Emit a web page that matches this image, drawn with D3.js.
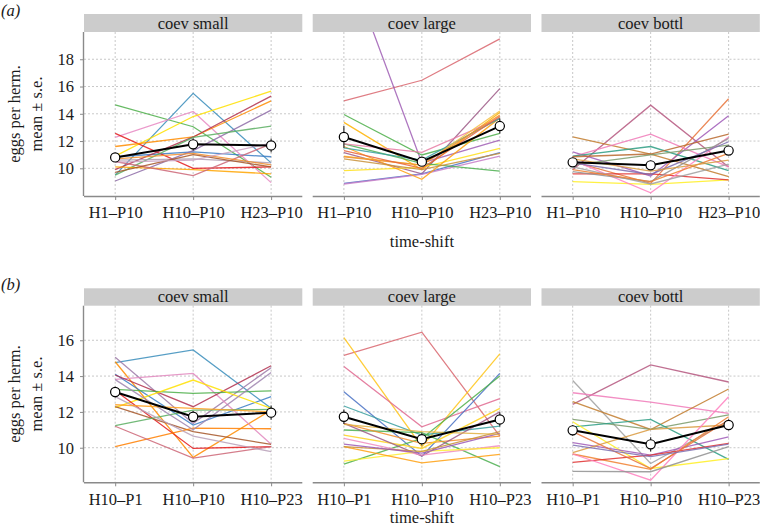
<!DOCTYPE html>
<html><head><meta charset="utf-8">
<script src="https://cdn.jsdelivr.net/npm/d3@7"></script>
<style>body{margin:0;background:#fff}</style>
</head><body><svg id="c" width="760" height="530"></svg>
<script>
// ---------- data ----------
const facets = ["coev small", "coev large", "coev bottl"];
const shiftsA = ["H1–P10", "H10–P10", "H23–P10"];
const shiftsB = ["H10–P1", "H10–P10", "H10–P23"];
const ticksA = [10, 12, 14, 16, 18];
const ticksB = [10, 12, 14, 16];

// replicate lines, values at the three time-shifts
const aSmall = [
  [14.66, 13.05, 9.34], [9.5, 15.5, 10.4], [10.85, 11.2, 10.85], [12.27, 14.17, 8.95],
  [10.9, 13.8, 15.66], [12.56, 10.0, 10.1], [11.6, 12.3, 14.95], [9.9, 12.3, 15.3],
  [9.07, 11.3, 14.27], [9.5, 12.27, 13.1], [10.1, 9.9, 9.6], [10.5, 9.46, 11.8],
  [10.6, 10.7, 10.4], [10.7, 11.1, 10.25], [9.7, 11.0, 10.1], [10.45, 10.6, 11.85]
];
const aLarge = [
  [14.95, 16.46, 19.5], [25.8, 10.4, 12.07], [13.95, 10.98, 12.56], [13.37, 9.9, 14.1],
  [11.15, 9.6, 15.85], [8.9, 9.6, 11.15], [8.85, 9.55, 10.9], [9.83, 10.07, 11.46],
  [11.8, 10.37, 9.8], [11.6, 9.2, 13.7], [11.8, 11.17, 13.66], [11.5, 10.6, 13.66],
  [10.7, 9.9, 11.1], [10.9, 10.24, 14.2], [10.85, 10.24, 13.9], [11.3, 10.0, 13.8]
];
const aBottl = [
  [9.9, 14.63, 10.1], [10.5, 8.9, 15.1], [11.2, 9.44, 13.85], [12.3, 11.05, 9.4],
  [10.85, 12.5, 10.1], [10.9, 11.6, 9.83], [10.85, 11.05, 12.5], [10.24, 10.98, 11.7],
  [9.02, 8.83, 9.15], [9.6, 9.6, 9.15], [10.6, 8.2, 12.3], [9.76, 9.02, 12.2],
  [10.1, 8.85, 10.3], [9.9, 9.02, 11.1], [10.4, 9.55, 11.95], [10.7, 9.8, 10.6]
];
const bSmall = [
  [14.75, 15.46, 12.2], [14.8, 9.46, 12.1], [15.05, 11.36, 14.47], [13.82, 14.15, 10.19],
  [14.1, 11.27, 12.85], [14.06, 12.29, 14.58], [13.26, 13.04, 13.17], [12.24, 13.78, 12.2],
  [13.2, 9.96, 10.06], [12.29, 10.9, 10.19], [11.23, 12.1, 12.14], [10.06, 11.1, 11.06],
  [11.2, 9.42, 10.06], [12.85, 10.65, 9.78], [13.8, 11.0, 14.2], [12.4, 12.2, 12.0]
];
const bLarge = [
  [15.16, 16.45, 10.65], [16.15, 10.06, 15.24], [14.53, 11.17, 12.74], [13.13, 9.53, 14.15],
  [12.33, 10.71, 11.21], [9.09, 10.52, 14.0], [10.99, 10.84, 8.94], [11.36, 10.24, 10.65],
  [10.71, 9.96, 12.2], [11.36, 9.53, 12.0], [10.52, 9.59, 10.11], [9.25, 9.8, 10.0],
  [10.06, 9.16, 9.63], [10.06, 9.8, 10.9], [10.2, 9.7, 10.8], [11.3, 10.9, 10.75]
];
const bBottl = [
  [12.42, 14.62, 13.67], [13.75, 9.12, 11.5], [13.07, 12.55, 11.92], [12.57, 11.02, 13.28],
  [11.58, 11.02, 11.83], [11.17, 11.58, 9.35], [11.45, 8.84, 9.39], [10.28, 9.59, 10.61],
  [9.72, 11.02, 11.27], [9.65, 8.79, 11.73], [9.18, 9.59, 10.24], [9.65, 8.19, 12.85],
  [8.68, 8.66, 10.06], [10.9, 8.84, 11.55], [10.15, 9.5, 10.2]
];

// means and standard errors
const aMeans = [[10.8, 11.76, 11.68], [12.3, 10.49, 13.1], [10.44, 10.22, 11.3]];
const aSE = [[0.3, 0.45, 0.5], [0.8, 0.25, 0.55], [0.2, 0.3, 0.3]];
const bMeans = [[13.11, 11.73, 11.96], [11.73, 10.48, 11.58], [10.97, 10.19, 11.27]];
const bSE = [[0.3, 0.3, 0.4], [0.4, 0.35, 0.4], [0.3, 0.4, 0.3]];

// line colours per panel
const colSmall = ["#4daf4a","#3a8dbb","#3b7dc4","#e78ac3","#ffe000","#e41a1c","#ff8c00","#b2314f",
                  "#8e6ca8","#5aae61","#ffa500","#cc6677","#b09cb0","#f28e2b","#a65628","#c9a0c0"];
const colLarge = ["#d9666f","#a05fb5","#4daf4a","#ffb300","#9e5a87","#4a72c4","#c77dc7","#ffe11a",
                  "#4caf50","#ffa010","#e87ea5","#3ba0a0","#c8903a","#f6c141","#f28e2b","#e8643c"];
const colBottl = ["#b5577f","#e8743b","#a05cb8","#c27c2e","#f07ab8","#2e9e84","#b8692e","#7a9a6a",
                  "#ffee22","#e03030","#ff80c0","#909090","#a0a0a0","#f08030","#7d6fb0","#d99a40"];
const colSmallB = ["#3a8dbb","#ff8c00","#9e7aa8","#e28ac0","#3b7dc4","#b2314f","#4daf4a","#ffe000",
                   "#e41a1c","#a65628","#5aae61","#ff7f00","#cc6677","#b8a0b8","#a086b0","#ffa020"];
const colLargeB = ["#d9666f","#ffc61a","#e06a90","#4a72c4","#3ba0a0","#4daf4a","#4caf50","#f28e2b",
                   "#ffd21f","#9e5a87","#f08cc0","#ffee33","#ffa010","#c8903a","#9b59b6","#e0b040"];
const colBottlB = ["#b5577f","#a0a0a0","#f07ab8","#c27c2e","#7a9a6a","#2e9e84","#ffee22","#a05cb8",
                   "#d99a40","#f08030","#e03030","#ff80c0","#909090","#e8743b","#7d6fb0"];

// ---------- layout ----------
const svg = d3.select("#c");
const FONT = '"Liberation Serif", "Times New Roman", serif';
const TXT = "#1a1a1a";
const panelX = [84, 312.7, 541.5];
const panelW = 218.3;
const rows = [
  { tag: "(a)", tagY: 16, stripTop: 14, top: 32, bottom: 196, domain: [7.97, 20.0], ticks: ticksA,
    cats: shiftsA, lines: [aSmall, aLarge, aBottl], cols: [colSmall, colLarge, colBottl],
    means: aMeans, se: aSE, tickLabY: 218, titleY: 246.5 },
  { tag: "(b)", tagY: 290, stripTop: 288.3, top: 305.7, bottom: 482.3, domain: [8.07, 17.93], ticks: ticksB,
    cats: shiftsB, lines: [bSmall, bLarge, bBottl], cols: [colSmallB, colLargeB, colBottlB],
    means: bMeans, se: bSE, tickLabY: 505, titleY: 523 }
];
const FS = 16.5;
const axisCol = "#8a8a8a";
const txt = sel => sel.style("font-family", FONT).style("fill", TXT).attr("font-size", FS);

rows.forEach((r, ri) => {
  const y = d3.scaleLinear().domain(r.domain).range([r.bottom, r.top]);
  svg.append("text").attr("x", 1).attr("y", r.tagY).call(txt).attr("font-style", "italic").text(r.tag);

  facets.forEach((f, fi) => {
    const x0 = panelX[fi];
    const x = d3.scalePoint().domain(r.cats).range([x0, x0 + panelW]).padding(0.4);
    const g = svg.append("g");
    const cid = `clip${ri}${fi}`;
    svg.append("clipPath").attr("id", cid).append("rect")
      .attr("x", x0).attr("y", r.top).attr("width", panelW).attr("height", r.bottom - r.top);

    // strip
    g.append("rect").attr("x", x0).attr("y", r.stripTop).attr("width", panelW)
      .attr("height", r.top - r.stripTop).attr("fill", "#cccccc");
    g.append("text").attr("x", x0 + panelW / 2).attr("y", r.top - 3.5).attr("text-anchor", "middle")
      .call(txt).text(f);

    // grid
    g.selectAll(".hg").data(r.ticks).join("line")
      .attr("x1", x0).attr("x2", x0 + panelW).attr("y1", d => y(d)).attr("y2", d => y(d))
      .attr("stroke", "#b0b0b0").attr("stroke-width", 0.7).attr("stroke-dasharray", "2,2");
    g.selectAll(".vg").data(r.cats).join("line")
      .attr("x1", d => x(d)).attr("x2", d => x(d)).attr("y1", r.top).attr("y2", r.bottom)
      .attr("stroke", "#b0b0b0").attr("stroke-width", 0.7).attr("stroke-dasharray", "2,2");

    // replicate lines
    const line = d3.line().x((d, i) => x(r.cats[i])).y(d => y(d));
    const lg = g.append("g").attr("clip-path", `url(#${cid})`);
    lg.selectAll("path.rep").data(r.lines[fi]).join("path")
      .attr("d", line).attr("fill", "none")
      .attr("stroke", (d, i) => r.cols[fi][i]).attr("stroke-width", 1.3).attr("stroke-opacity", 0.85);

    // mean + se
    const m = r.means[fi], s = r.se[fi];
    lg.selectAll("line.se").data(m).join("line")
      .attr("x1", (d, i) => x(r.cats[i])).attr("x2", (d, i) => x(r.cats[i]))
      .attr("y1", (d, i) => y(d - s[i])).attr("y2", (d, i) => y(d + s[i]))
      .attr("stroke", "#222").attr("stroke-width", 1.1);
    lg.append("path").datum(m).attr("d", line).attr("fill", "none").attr("stroke", "#000").attr("stroke-width", 2);
    g.selectAll("circle.mean").data(m).join("circle")
      .attr("cx", (d, i) => x(r.cats[i])).attr("cy", d => y(d)).attr("r", 4.6)
      .attr("fill", "#fff").attr("stroke", "#000").attr("stroke-width", 1.2);

    // x axis
    const xa = g.append("g").attr("transform", `translate(0,${r.bottom})`)
      .call(d3.axisBottom(x).tickSize(4).tickSizeOuter(0).tickPadding(0));
    xa.select(".domain").attr("stroke", axisCol).attr("stroke-width", 1.4)
      .attr("d", `M${x0},0.5H${x0 + panelW}`);
    xa.selectAll(".tick line").attr("stroke", axisCol).attr("stroke-width", 1);
    xa.selectAll(".tick text").call(txt).attr("dy", null).attr("y", r.tickLabY - r.bottom);

    // y axis (first panel only)
    if (fi === 0) {
      const ya = g.append("g").attr("transform", `translate(${x0},0)`)
        .call(d3.axisLeft(y).tickValues(r.ticks).tickSize(4).tickSizeOuter(0).tickPadding(6));
      ya.select(".domain").attr("stroke", axisCol).attr("stroke-width", 1.4)
        .attr("d", `M-0.5,${r.top}V${r.bottom}`);
      ya.selectAll(".tick line").attr("stroke", axisCol).attr("stroke-width", 1);
      ya.selectAll(".tick text").call(txt);
    }
  });

  // axis titles
  const cy = (r.top + r.bottom) / 2;
  const yt = svg.append("text").attr("transform", `translate(20,${cy}) rotate(-90)`)
    .attr("text-anchor", "middle").call(txt);
  yt.append("tspan").attr("x", 0).attr("y", 0).text("eggs per herm.");
  yt.append("tspan").attr("x", 0).attr("y", 22).text("mean ± s.e.");
  svg.append("text").attr("x", (panelX[0] + panelX[2] + panelW) / 2).attr("y", r.titleY)
    .attr("text-anchor", "middle").call(txt).text("time-shift");
});
</script></body></html>
